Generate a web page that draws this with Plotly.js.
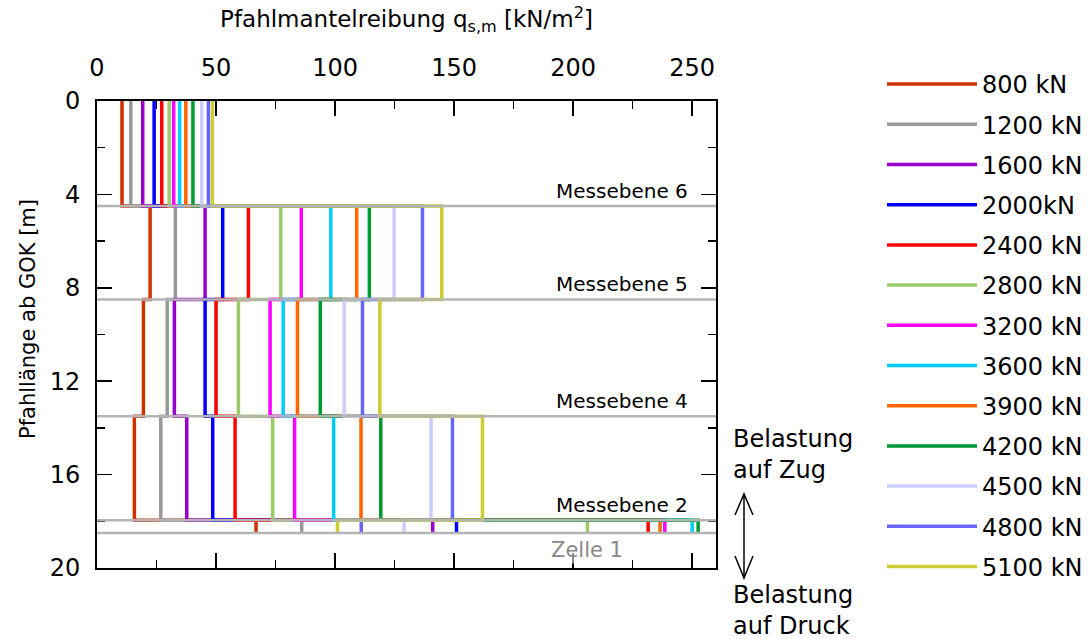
<!DOCTYPE html>
<html>
<head>
<meta charset="utf-8">
<script src="https://cdn.plot.ly/plotly-3.0.1.min.js"></script>
<style>
  html, body { margin: 0; padding: 0; background: #fff; }
  #chart { width: 1090px; height: 639px; }
</style>
</head>
<body>
<div id="chart"></div>
<script>
// Load steps of the pile test
const loadLabels = ['800 kN', '1200 kN', '1600 kN', '2000kN', '2400 kN', '2800 kN', '3200 kN',
                    '3600 kN', '3900 kN', '4200 kN', '4500 kN', '4800 kN', '5100 kN'];
const loadColors = ['#CC3300', '#999999', '#9900CC', '#0000FF', '#FF0000', '#99CC66', '#FF00FF',
                    '#00CCFF', '#FF6600', '#009933', '#CCCCFF', '#6666FF', '#CCCC33'];

// Section boundaries along the pile [m below ground level]
const sectionDepths = [0, 4.5, 8.5, 13.5, 17.95, 18.5];

// Mean skin friction q_s,m [kN/m²] per section, one value per load step
const qs_0_45    = [10.5, 14.2, 19.2, 24.0, 27.2, 30.3, 32.2, 34.7, 37.3, 40.3, 44.0, 46.8, 48.5];
const qs_45_85   = [22.3, 32.9, 45.4, 52.8, 63.6, 77.2, 85.8, 98.2, 109.1, 114.4, 124.8, 136.7, 144.8];
const qs_85_135  = [19.5, 29.5, 32.5, 45.4, 50.0, 59.4, 72.7, 78.2, 84.2, 93.8, 103.8, 111.5, 118.8];
const qs_135_180 = [15.7, 26.8, 37.7, 48.6, 58.0, 73.8, 83.0, 99.4, 110.9, 119.2, 140.3, 149.3, 161.9];
const qs_180_185 = [66.8, 86.0, 141.0, 151.0, 231.5, 206.0, 238.5, 250.0, 236.5, 252.5, 129.0, 111.0, 101.0];

// Measuring levels (strain gauge planes) and the load cell
const levelNames  = ['Messebene 6', 'Messebene 5', 'Messebene 4', 'Messebene 2'];
const levelDepths = [4.5, 8.5, 13.5, 17.95];
const cellName  = 'Zelle 1';
const cellDepth = 18.5;

const FONT = 'DejaVu Sans, Liberation Sans, Arial, sans-serif';
const sections = [qs_0_45, qs_45_85, qs_85_135, qs_135_180, qs_180_185];

// Build one stepped profile per load step
const traces = loadLabels.map((name, i) => {
  const x = [], y = [];
  sections.forEach((sec, s) => {
    x.push(sec[i], sec[i]);
    y.push(sectionDepths[s], sectionDepths[s + 1]);
  });
  return {
    type: 'scatter', mode: 'lines', name: name, x: x, y: y,
    legendgroup: 'g' + i,
    line: { color: loadColors[i], width: 3.5 },
    hoverinfo: 'skip'
  };
});

const shapes = levelDepths.concat([cellDepth]).map(d => ({
  type: 'line', xref: 'paper', yref: 'y', x0: 0, x1: 1, y0: d, y1: d,
  line: { color: '#B4B4B4', width: 2.5 }, layer: 'above'
}));

// Tension / compression arrows at the right side of the chart (paper units)
const px = v => (v - 97) / 619;
const py = v => (568 - v) / 467;
shapes.push({ type: 'path', xref: 'paper', yref: 'paper',
  path: `M${px(744)},${py(495)} L${px(744)},${py(577)}`, line: { color: '#000', width: 1.5 } });
shapes.push({ type: 'path', xref: 'paper', yref: 'paper',
  path: `M${px(735)},${py(515)} L${px(744)},${py(494)} L${px(753)},${py(515)}`, line: { color: '#000', width: 1.5 } });
shapes.push({ type: 'path', xref: 'paper', yref: 'paper',
  path: `M${px(735)},${py(556)} L${px(744)},${py(578)} L${px(753)},${py(556)}`, line: { color: '#000', width: 1.5 } });

const annotations = levelNames.map((t, k) => ({
  text: t, xref: 'x', yref: 'y', x: 249, y: levelDepths[k],
  xanchor: 'right', yanchor: 'bottom', yshift: 1, showarrow: false,
  font: { family: FONT, size: 20, color: '#000' }
}));
annotations.push({
  text: cellName, xref: 'x', yref: 'y', x: 206, y: cellDepth,
  xanchor: 'center', yanchor: 'top', yshift: -3, showarrow: false,
  bgcolor: 'rgba(255,255,255,0.55)',
  font: { family: FONT, size: 21, color: '#888888' }
});
annotations.push({
  text: 'Belastung<br>auf Zug', xref: 'paper', yref: 'paper', x: px(731), y: py(423),
  xanchor: 'left', yanchor: 'top', align: 'left', showarrow: false,
  font: { family: FONT, size: 24, color: '#000' }
});
annotations.push({
  text: 'Belastung<br>auf Druck', xref: 'paper', yref: 'paper', x: px(731), y: py(579),
  xanchor: 'left', yanchor: 'top', align: 'left', showarrow: false,
  font: { family: FONT, size: 24, color: '#000' }
});
// Depth axis title
annotations.push({
  text: 'Pfahllänge ab GOK [m]', xref: 'paper', yref: 'paper', x: px(28), y: py(319),
  xanchor: 'center', yanchor: 'middle', textangle: -90, showarrow: false,
  font: { family: FONT, size: 21, color: '#000' }
});

const axisCommon = {
  showgrid: false, zeroline: false, showline: true, linecolor: '#000', linewidth: 2,
  ticks: 'inside', ticklen: 15, tickwidth: 1.5, tickcolor: '#000', mirror: 'allticks',
  tickfont: { family: FONT, size: 24, color: '#000' }
};

const layout = {
  width: 1090, height: 639,
  margin: { l: 97, r: 374, t: 101, b: 71, pad: 0, autoexpand: false },
  paper_bgcolor: '#fff', plot_bgcolor: '#fff',
  font: { family: FONT, color: '#000' },
  showlegend: true,
  legend: {
    x: px(882), y: py(62), xanchor: 'left', yanchor: 'top',
    font: { family: FONT, size: 24, color: '#000' },
    itemwidth: 90, tracegroupgap: 6, maxheight: 600, bgcolor: 'rgba(0,0,0,0)'
  },
  xaxis: Object.assign({}, axisCommon, {
    side: 'top', range: [0, 260], tick0: 0, dtick: 50,
    minor: { dtick: 25, ticks: 'inside', ticklen: 8, tickwidth: 1.5, tickcolor: '#000' },
    ticklabelstandoff: 13,
    title: { text: 'Pfahlmantelreibung q<sub>s,m</sub> [kN/m<sup>2</sup>]',
             font: { family: FONT, size: 23, color: '#000' }, standoff: 20 }
  }),
  yaxis: Object.assign({}, axisCommon, {
    range: [20, 0], tick0: 0, dtick: 4,
    minor: { dtick: 2, ticks: 'inside', ticklen: 8, tickwidth: 1.5, tickcolor: '#000' },
    ticklabelstandoff: 10
  }),
  shapes: shapes,
  annotations: annotations
};

Plotly.newPlot('chart', traces, layout, { staticPlot: true, displayModeBar: false });
</script>
</body>
</html>
